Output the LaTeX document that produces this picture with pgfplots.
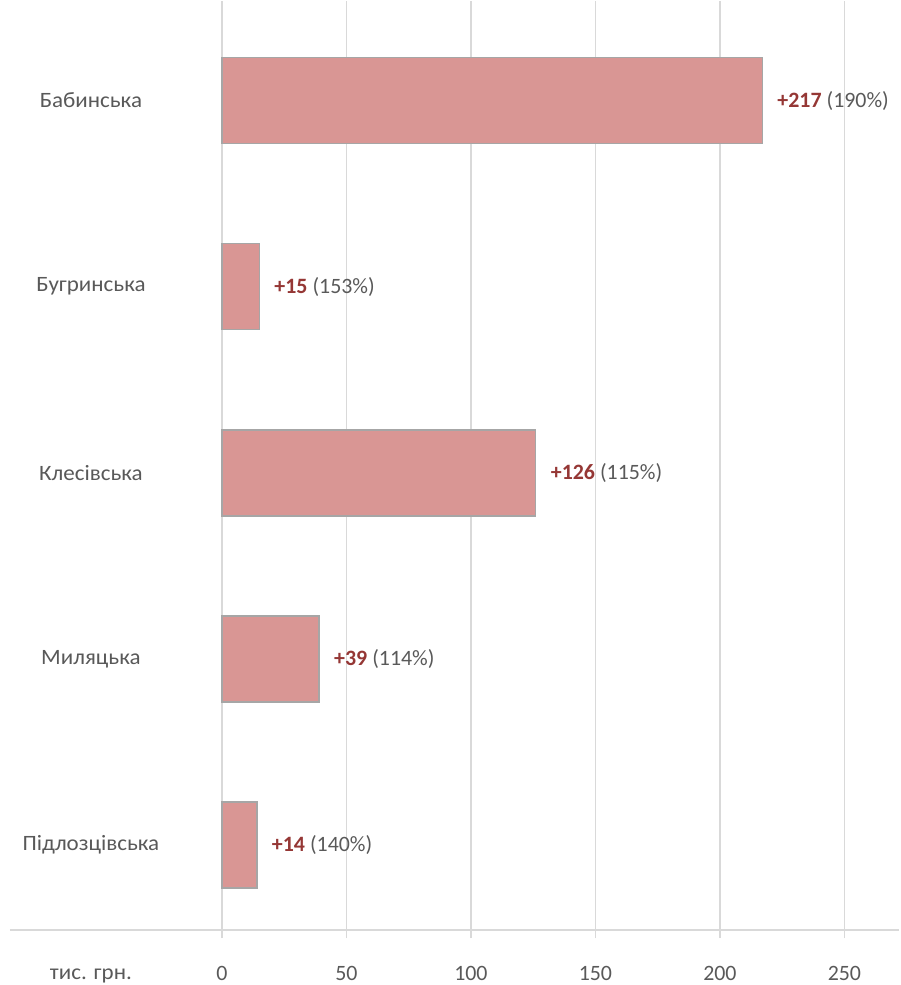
\documentclass[border=0pt]{standalone}
\usepackage{pgfplots}
\pgfplotsset{compat=1.18}
\usepackage{fontspec}
\setmainfont{Carlito}
\definecolor{barfill}{HTML}{D99694}
\definecolor{barline}{HTML}{A6A6A6}
\definecolor{lbl}{HTML}{953735}
\definecolor{txt}{HTML}{595959}
\definecolor{gridc}{HTML}{D9D9D9}
\begin{document}
\begin{tikzpicture}
\begin{axis}[
  scale only axis, width=890bp, height=930bp,
  xmin=-85.1, xmax=272.1, ymin=-0.456, ymax=4.537,
  axis line style={draw=none},
  xtick={0,50,100,150,200,250},
  ytick=\empty,
  xmajorgrids, grid style={gridc, line width=1.2bp},
  tick align=outside, major tick length=8bp,
  xtick pos=bottom,
  x tick style={gridc, line width=1.2bp},
  /pgf/number format/assume math mode=true,
  xticklabel style={font=\fontsize{22}{26}\selectfont, text=txt, yshift=-25bp},
  clip=false,
]
\path (rel axis cs:0,0) ++(-10bp,-55bp) rectangle (rel axis cs:1,1);
\draw[gridc, line width=2.5bp] (rel axis cs:0,0) -- (rel axis cs:1,0);
\addplot[xbar, bar width=86bp, fill=barfill, draw=barline, line width=1.5bp]
  coordinates {(217,4) (15,3) (126,2) (39,1) (14,0)};
\begin{scope}[every node/.style={font=\fontsize{22}{26}\selectfont, inner sep=0pt}]
\begin{scope}[every node/.append style={text=txt, xscale=1.05}]
\node at (axis cs:-52.6,4) {Бабинська};
\node at (axis cs:-52.6,3) {Бугринська};
\node at (axis cs:-52.6,2) {Клесівська};
\node at (axis cs:-52.6,1) {Миляцька};
\node at (axis cs:-52.6,0) {Підлозцівська};
\node at (axis cs:-52.6,-0.70) {тис. грн.};
\end{scope}
\node[anchor=west, xshift=15bp] at (axis cs:217,4) {\textcolor{lbl}{\textbf{+217}} \textcolor{txt}{(190\%)}};
\node[anchor=west, xshift=15bp] at (axis cs:15,3) {\textcolor{lbl}{\textbf{+15}} \textcolor{txt}{(153\%)}};
\node[anchor=west, xshift=15bp] at (axis cs:126,2) {\textcolor{lbl}{\textbf{+126}} \textcolor{txt}{(115\%)}};
\node[anchor=west, xshift=15bp] at (axis cs:39,1) {\textcolor{lbl}{\textbf{+39}} \textcolor{txt}{(114\%)}};
\node[anchor=west, xshift=15bp] at (axis cs:14,0) {\textcolor{lbl}{\textbf{+14}} \textcolor{txt}{(140\%)}};
\end{scope}
\end{axis}
\end{tikzpicture}
\end{document}
